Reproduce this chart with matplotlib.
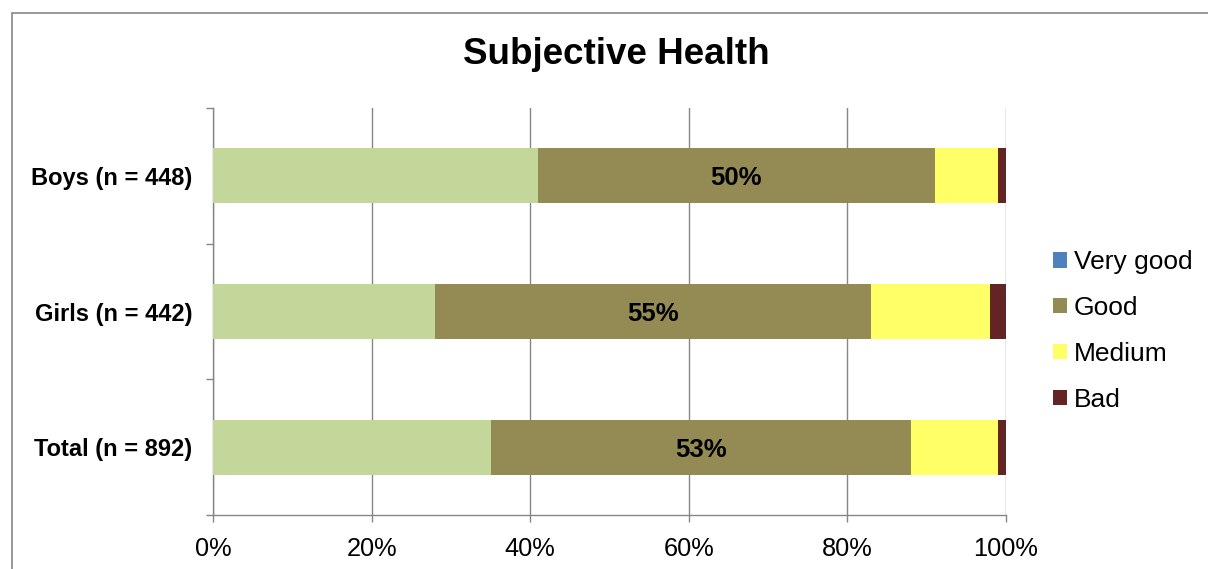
import matplotlib
matplotlib.use("Agg")
import matplotlib.pyplot as plt
from matplotlib.patches import Patch, Rectangle
import numpy as np

plt.rcParams['font.family'] = ['Liberation Sans', 'DejaVu Sans']

# Data
categories = ["Boys (n = 448)", "Girls (n = 442)", "Total (n = 892)"]
series_names = ["Very good", "Good", "Medium", "Bad"]
very_good = [41, 28, 35]
good = [50, 55, 53]
medium = [8, 15, 11]
bad = [1, 2, 1]
x_ticks = [0, 20, 40, 60, 80, 100]
x_tick_labels = ["0%", "20%", "40%", "60%", "80%", "100%"]

bar_colors = ["#C4D79B", "#948A54", "#FFFF66", "#632523"]
legend_colors = ["#4F81BD", "#948A54", "#FFFF66", "#632523"]
grid_color = "#868686"

W, H = 1208, 569
fig = plt.figure(figsize=(W / 100, H / 100), dpi=100)

# chart frame (extends past right and bottom edge)
fig.patches.append(Rectangle((12 / W, -0.1), 1.2, 1 - 13 / H + 0.1,
                             transform=fig.transFigure, fill=False,
                             edgecolor=grid_color, linewidth=1.2))

ax = fig.add_axes([213 / W, 1 - 515 / H, (1006 - 213) / W, (515 - 108) / H])

y = np.arange(len(categories))
left = np.zeros(len(categories))
for vals, col in zip([very_good, good, medium, bad], bar_colors):
    ax.barh(y, vals, left=left, height=0.405, color=col, edgecolor="none", zorder=3)
    left += np.array(vals)

# value labels on the "Good" segment
for i, (vg, g) in enumerate(zip(very_good, good)):
    ax.text(vg + g / 2, i, f"{g}%", ha="center", va="center_baseline",
            fontsize=18.5, fontweight="bold", color="black", zorder=4)

ax.set_xlim(0, 100)
ax.set_ylim(2.5, -0.5)

ax.set_xticks(x_ticks)
ax.set_xticklabels(x_tick_labels, fontsize=18.3)
ax.set_yticks(y)
ax.set_yticklabels(categories, fontsize=17, fontweight="bold")
ax.set_yticks([-0.5, 0.5, 1.5, 2.5], minor=True)

ax.tick_params(axis="y", which="major", length=0, pad=15)
ax.tick_params(axis="y", which="minor", length=5, color=grid_color, width=1)
ax.tick_params(axis="x", which="major", length=5, color=grid_color, width=1, pad=10.5)

ax.grid(axis="x", color=grid_color, linewidth=1, zorder=0)
ax.set_axisbelow(True)

for side in ["top", "right"]:
    ax.spines[side].set_visible(False)
for side in ["left", "bottom"]:
    ax.spines[side].set_color(grid_color)
    ax.spines[side].set_linewidth(1)

fig.text(616 / W, 1 - 55 / H, "Subjective Health", ha="center", va="center",
         fontsize=26.5, fontweight="bold")

handles = [Patch(facecolor=c, edgecolor="none") for c in legend_colors]
fig.legend(handles, series_names, loc="center left",
           bbox_to_anchor=(1053 / W, 1 - 331 / H), frameon=False,
           fontsize=19, handlelength=0.53, handleheight=0.53,
           handletextpad=0.27, labelspacing=0.83, borderpad=0, borderaxespad=0)

fig.savefig("out.png", dpi=100)
